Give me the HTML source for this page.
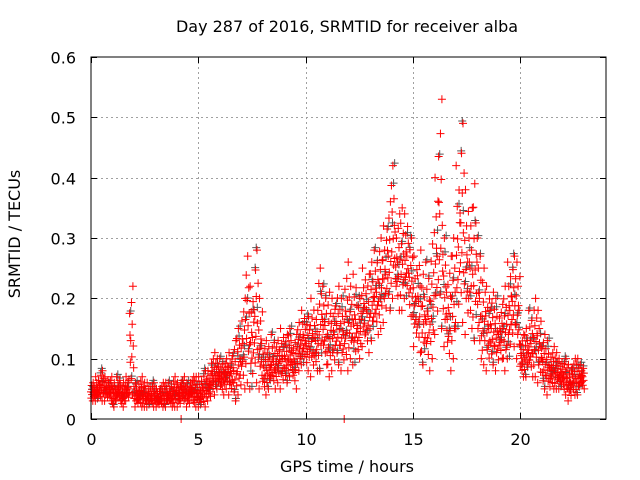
<!DOCTYPE html>
<html><head><meta charset="utf-8"><style>
body{margin:0;background:#fff;}
svg{display:block;font-family:"DejaVu Sans","Liberation Sans",sans-serif;}
</style></head><body>
<svg id="chart" width="640" height="480">
<text x="347" y="32" font-size="16" text-anchor="middle" fill="#000">Day 287 of 2016, SRMTID for receiver alba</text>
<text x="347" y="472" font-size="16" text-anchor="middle" fill="#000">GPS time / hours</text>
<text transform="translate(20,234) rotate(-90)" font-size="16" text-anchor="middle" fill="#000">SRMTID / TECUs</text>
<g id="grid"></g>
<g id="ticks"></g>
<g id="gray"></g>
<g id="red"></g>
<rect x="91" y="57" width="515" height="362" fill="none" stroke="#000" stroke-width="1"/>
</svg>
<script>
const xTicks=[0,5,10,15,20];
const yTicks=[0,0.1,0.2,0.3,0.4,0.5,0.6];
const yTickLabels=["0","0.1","0.2","0.3","0.4","0.5","0.6"];
const times=[0,0.2,0.4,0.6,0.8,1,1.2,1.4,1.6,1.8,2,2.2,2.4,2.6,2.8,3,3.2,3.4,3.6,3.8,4,4.2,4.4,4.6,4.8,5,5.2,5.4,5.6,5.8,6,6.2,6.4,6.6,6.8,7,7.2,7.4,7.6,7.8,8,8.2,8.4,8.6,8.8,9,9.2,9.4,9.6,9.8,10,10.2,10.4,10.6,10.8,11,11.2,11.4,11.6,11.8,12,12.2,12.4,12.6,12.8,13,13.2,13.4,13.6,13.8,14,14.2,14.4,14.6,14.8,15,15.2,15.4,15.6,15.8,16,16.2,16.4,16.6,16.8,17,17.2,17.4,17.6,17.8,18,18.2,18.4,18.6,18.8,19,19.2,19.4,19.6,19.8,20,20.2,20.4,20.6,20.8,21,21.2,21.4,21.6,21.8,22,22.2,22.4,22.6,22.8];
const lowVals=[.03,.03,.03,.03,.03,.02,.03,.02,.03,.04,.02,.02,.02,.02,.02,.02,.02,.02,.02,.02,.02,.03,.02,.03,.02,.02,.02,.03,.04,.05,.04,.05,.04,.03,.04,.05,.06,.05,.06,.05,.04,.05,.05,.06,.05,.06,.07,.05,.08,.09,.08,.07,.08,.08,.09,.07,.08,.09,.08,.08,.10,.09,.10,.12,.11,.13,.14,.15,.16,.18,.20,.18,.18,.20,.17,.12,.11,.09,.08,.10,.14,.15,.12,.08,.10,.15,.16,.14,.15,.13,.10,.09,.08,.09,.08,.10,.08,.10,.12,.10,.07,.07,.07,.07,.06,.05,.04,.05,.05,.05,.04,.03,.04,.04,.05];
const highVals=[.06,.07,.08,.07,.07,.06,.07,.06,.07,.22,.06,.07,.06,.06,.06,.05,.06,.06,.06,.07,.06,.07,.06,.07,.07,.07,.08,.08,.11,.10,.10,.10,.11,.13,.15,.20,.27,.22,.28,.20,.13,.12,.14,.13,.15,.14,.15,.14,.16,.18,.17,.20,.18,.25,.22,.21,.20,.22,.20,.26,.22,.24,.20,.25,.24,.26,.28,.30,.32,.36,.42,.34,.35,.34,.30,.27,.28,.24,.26,.29,.40,.53,.30,.27,.30,.42,.49,.38,.35,.39,.30,.25,.22,.21,.20,.19,.22,.26,.27,.26,.14,.15,.18,.20,.18,.14,.13,.12,.11,.10,.10,.09,.10,.10,.09];
const outlierTimes=[4.2,11.8];
const outlierVals=[0,0];
const fracs=[0.5,0.15,0.85,0.35,0.65,0.0,1.0,0.45,0.25,0.75,0.55,0.3];

const NS="http://www.w3.org/2000/svg";
const X0=91,X1=606,Y0=419,Y1=57;
function xs(t){return X0+t/24*(X1-X0);}
function ys(v){return Y0-v/0.6*(Y0-Y1);}
const grid=document.getElementById('grid'),ticks=document.getElementById('ticks');
function line(g,x1,y1,x2,y2,st,dash){const l=document.createElementNS(NS,'line');l.setAttribute('x1',x1);l.setAttribute('y1',y1);l.setAttribute('x2',x2);l.setAttribute('y2',y2);l.setAttribute('stroke',st);l.setAttribute('stroke-width',1);if(dash)l.setAttribute('stroke-dasharray',dash);g.appendChild(l);return l;}
function text(g,x,y,s,anchor){const t=document.createElementNS(NS,'text');t.setAttribute('x',x);t.setAttribute('y',y);t.setAttribute('font-size',16);t.setAttribute('text-anchor',anchor);t.textContent=s;g.appendChild(t);return t;}
xTicks.forEach(v=>{const x=Math.round(xs(v))+0.5;
 if(v>0){const gl=line(grid,x,Y1,x,Y0,'#a0a0a0','2,3');
 
 }
 line(ticks,x,Y0,x,Y0-6,'#000');line(ticks,x,Y1,x,Y1+6,'#000');
 const t=text(ticks,x,445,String(v),'middle');
 
 });
yTicks.forEach((v,i)=>{const y=Math.round(ys(v))+0.5;
 if(v>0&&v<0.6){const gl=line(grid,X0,y,X1,y,'#a0a0a0','2,3');
 
 }
 line(ticks,X0,y,X0+6,y,'#000');line(ticks,X1,y,X1-6,y,'#000');
 const t=text(ticks,76,y+6,yTickLabels[i],'end');
 
 });
function plus(g,t,v,col){const x=xs(t),y=ys(v);const p=document.createElementNS(NS,'path');
 p.setAttribute('d',`M${x-4},${y}H${x+4}M${x},${y-4}V${y+4}`);p.setAttribute('stroke',col);p.setAttribute('stroke-width',1);p.setAttribute('fill','none');
 
 
 g.appendChild(p);}
const red=document.getElementById('red'),gray=document.getElementById('gray');
times.forEach((t,i)=>{const lo=lowVals[i],hi=highVals[i];
 for(let k=0;k<12;k++){const f=fracs[(k+i*5)%12];plus(red,t+k*0.017,lo+f*(hi-lo),'#ff0000');}
 for(let k=0;k<3;k++){const f=fracs[(k*4+i)%12];plus(gray,t+0.05+k*0.05,lo+f*(hi-lo)+0.004,'#555555');}
});
outlierTimes.forEach((t,i)=>plus(red,t,outlierVals[i],'#ff0000'));
</script>
</body></html>
